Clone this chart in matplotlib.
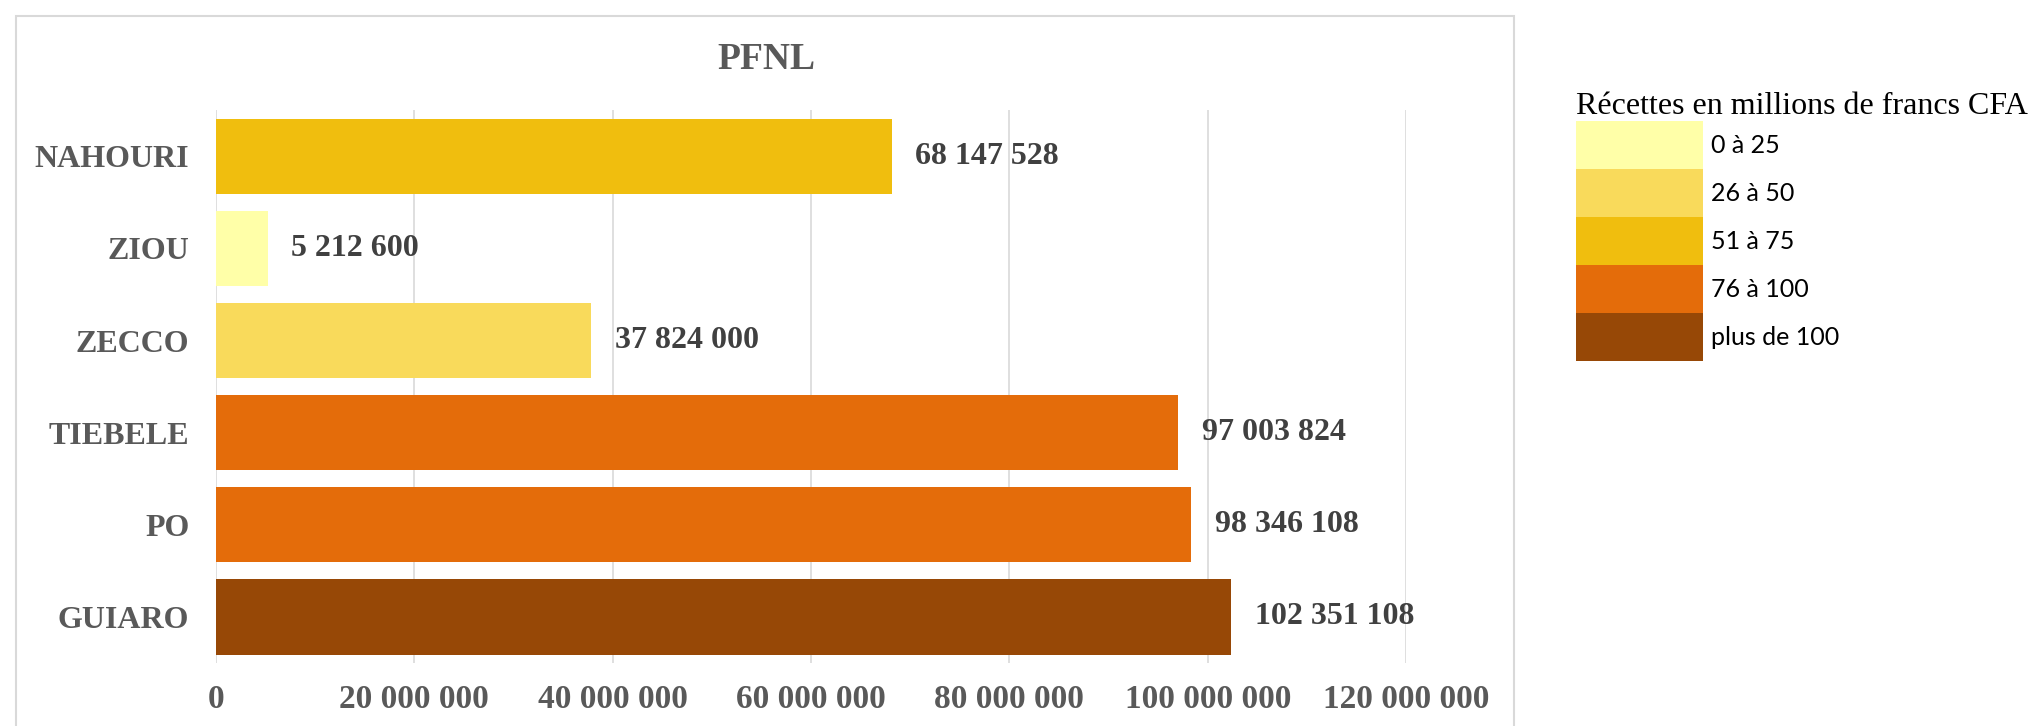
import matplotlib
matplotlib.use("Agg")
import matplotlib.pyplot as plt
from matplotlib.patches import Patch, Rectangle
from matplotlib.ticker import FuncFormatter

categories = ["NAHOURI", "ZIOU", "ZECCO", "TIEBELE", "PO", "GUIARO"]
values = [68147528, 5212600, 37824000, 97003824, 98346108, 102351108]
value_labels = ["68 147 528", "5 212 600", "37 824 000", "97 003 824", "98 346 108", "102 351 108"]
classes = ["51 à 75", "0 à 25", "26 à 50", "76 à 100", "76 à 100", "plus de 100"]
legend_labels = ["0 à 25", "26 à 50", "51 à 75", "76 à 100", "plus de 100"]
legend_colors = ["#FFFFA8", "#F9DA5B", "#F0BE0E", "#E46C0A", "#974806"]
xticks = [0, 20000000, 40000000, 60000000, 80000000, 100000000, 120000000]

color_of = dict(zip(legend_labels, legend_colors))
bar_colors = [color_of[c] for c in classes]

serif = ["Liberation Serif", "DejaVu Serif"]

fig = plt.figure(figsize=(20.38, 7.26), dpi=100)
ax = fig.add_axes([0.1059, 0.087, 0.69 - 0.1059, 0.848 - 0.087])

ypos = list(range(len(categories)))
ax.barh(ypos, values, height=0.82, color=bar_colors, zorder=3)
ax.set_ylim(len(categories) - 0.5, -0.5)
ax.set_xlim(0, 120000000)
ax.set_yticks(ypos)
ax.set_yticklabels(categories, fontfamily=serif, fontweight="bold", fontsize=23, color="#595959")
ax.set_xticks(xticks)
ax.xaxis.set_major_formatter(FuncFormatter(lambda v, p: f"{int(v):,}".replace(",", " ")))
for lab in ax.get_xticklabels():
    lab.set_fontfamily(serif)
    lab.set_fontweight("bold")
    lab.set_fontsize(24)
    lab.set_color("#595959")
ax.tick_params(axis="y", length=0, pad=19)
ax.tick_params(axis="x", length=0, pad=15)
for s in ax.spines.values():
    s.set_visible(False)
ax.grid(axis="x", color="#d9d9d9", linewidth=1.2, zorder=0)
ax.set_axisbelow(True)

for y, v, lab in zip(ypos, values, value_labels):
    ax.annotate(lab, xy=(v, y), xytext=(17, 0), textcoords="offset points",
                ha="left", va="center", fontfamily=serif, fontweight="bold",
                fontsize=23, color="#404040")

fig.text(0.376, 0.918, "PFNL", ha="center", va="center", fontfamily=serif,
         fontweight="bold", fontsize=27, color="#595959")

handles = [Patch(facecolor=c, edgecolor="none") for c in legend_colors]
fs = 18
fs_px = fs * 100 / 72
patch_h = 48 / fs_px
hh = (patch_h - 0.245) / 0.65
leg = fig.legend(handles, legend_labels, loc="upper left",
                 bbox_to_anchor=(0.7735, 0.873), frameon=False,
                 prop={"family": ["Lato", "DejaVu Sans"], "size": fs},
                 handlelength=127 / fs_px, handleheight=hh,
                 labelspacing=0, handletextpad=0.3, borderpad=0, borderaxespad=0,
                 title="Récettes en millions de francs CFA",
                 title_fontproperties={"family": serif, "size": 23},
                 alignment="left")
for t in leg.get_texts():
    t.set_color("black")

frame = Rectangle((0.0077, -0.05), 0.743 - 0.0077, 0.9785 + 0.05, transform=fig.transFigure,
                  fill=False, edgecolor="#d9d9d9", linewidth=1.5)
fig.add_artist(frame)

fig.savefig("out.png", dpi=100, facecolor="white")
